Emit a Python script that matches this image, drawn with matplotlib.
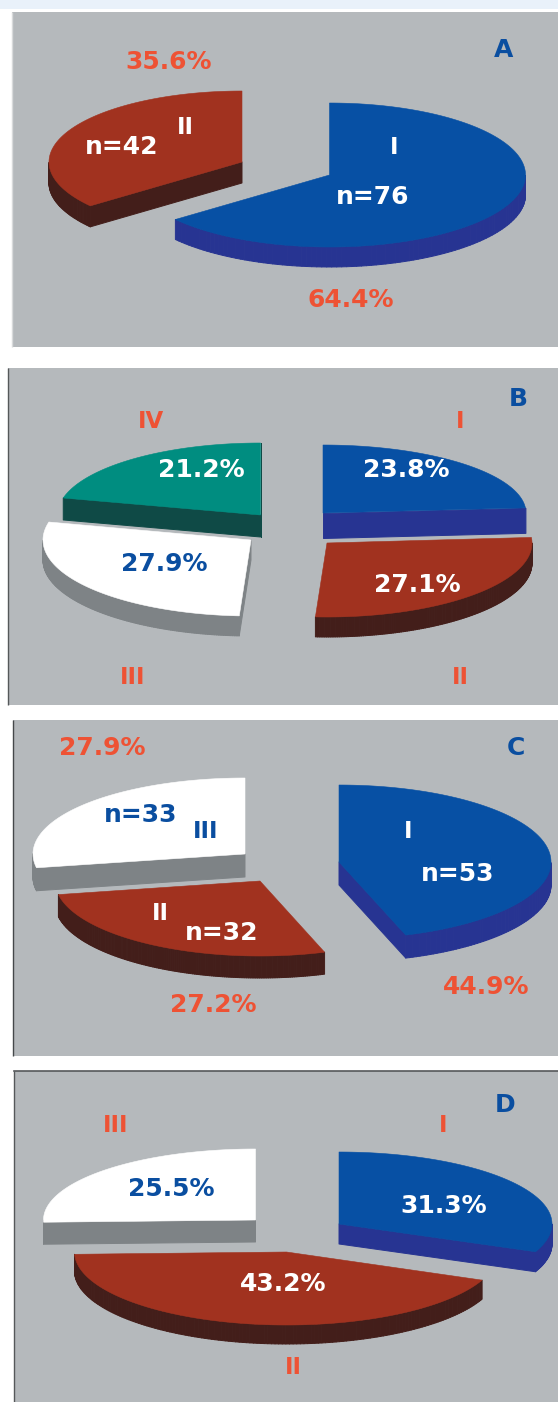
import numpy as np
import matplotlib
matplotlib.use("Agg")
import matplotlib.pyplot as plt
from matplotlib.patches import Polygon, Rectangle
from matplotlib.collections import PolyCollection

# ---- data: percentage of each slice, in clockwise order from 12 o'clock
categories_A = ["I", "II"]
values_A = [64.4, 35.6]
categories_B = ["I", "II", "III", "IV"]
values_B = [23.8, 27.1, 27.9, 21.2]
categories_C = ["I", "II", "III"]
values_C = [44.9, 27.2, 27.9]
categories_D = ["I", "II", "III"]
values_D = [31.3, 43.2, 25.5]

# ---- styles
BG = "#B5B9BC"
BLUE, BLUE_S = "#0750A4", "#273492"
RED, RED_S = "#A1321F", "#431E1A"
TEAL, TEAL_S = "#008D80", "#0F4A46"
WHITE, WHITE_S = "#FFFFFF", "#7E8386"
ORANGE = "#EE5234"
TXTBLUE = "#0A4EA0"
STYLE = {"I": (BLUE, BLUE_S), "II": (RED, RED_S), "III": (WHITE, WHITE_S), "IV": (TEAL, TEAL_S)}

# ---- layout (pixel space): category -> centre x, centre y, rx, ry, depth; dict order = paint order
layout_A = {"II": (242, 162, 193, 71, 21), "I": (329.5, 175, 196, 72, 20)}
layout_B = {"IV": (260.5, 515, 203, 72, 22), "I": (323, 513, 203, 68, 25),
            "III": (251, 540, 208, 76, 20), "II": (327, 543, 205, 74, 20)}
layout_C = {"III": (245, 854, 212, 76, 23), "II": (260, 881, 205, 75, 22), "I": (339, 862, 212, 77, 23)}
layout_D = {"III": (255.5, 1220, 212, 71, 22), "I": (339, 1224, 213, 72, 20), "II": (286.5, 1252, 212, 73, 19)}

panels = [(12, 12, 347), (8, 368, 705), (12.5, 720, 1056), (14, 1071, 1402)]

texts = [
    ("A", 503.5, 50, TXTBLUE), ("35.6%", 169, 62, ORANGE), ("II", 185, 127, "white"), ("n=42", 122, 147, "white"),
    ("I", 394, 147, "white"), ("n=76", 373, 197, "white"), ("64.4%", 350.5, 300, ORANGE),
    ("B", 518.5, 399, TXTBLUE), ("IV", 151, 422, ORANGE), ("I", 460.5, 422, ORANGE), ("21.2%", 201, 470, "white"),
    ("23.8%", 406, 470, "white"), ("27.9%", 164, 564, TXTBLUE), ("27.1%", 417.5, 585, "white"),
    ("III", 133, 677, ORANGE), ("II", 460.5, 677, ORANGE),
    ("27.9%", 102, 748, ORANGE), ("C", 516, 748, TXTBLUE), ("n=33", 140.5, 815, TXTBLUE), ("III", 206, 831, TXTBLUE),
    ("I", 408.5, 831, "white"), ("n=53", 458, 874, "white"), ("II", 160.5, 914, "white"), ("n=32", 222, 933, "white"),
    ("44.9%", 486, 987, ORANGE), ("27.2%", 213.5, 1005, ORANGE),
    ("D", 504.6, 1105, TXTBLUE), ("III", 115.7, 1126, ORANGE), ("I", 443.5, 1126, ORANGE), ("25.5%", 171, 1189, TXTBLUE),
    ("31.3%", 443.5, 1206, "white"), ("43.2%", 283.6, 1284, "white"), ("II", 293, 1367, ORANGE),
]


def slice_outline(cx, cy, rx, ry, a0, a1):
    """Outline of a flattened pie slice; angles in degrees clockwise from 12 o'clock."""
    t = np.radians(np.linspace(a0, a1, 160))
    x = cx + rx * np.sin(t)
    y = cy - ry * np.cos(t)
    return np.vstack([[cx, cy], np.column_stack([x, y]), [cx, cy]])


def draw_pie(ax, categories, values, layout):
    angles = np.cumsum([0.0] + list(values)) * 3.6
    spans = {c: (angles[i], angles[i + 1]) for i, c in enumerate(categories)}
    for z, (cat, (cx, cy, rx, ry, depth)) in enumerate(layout.items()):
        a0, a1 = spans[cat]
        top, side = STYLE[cat]
        pts = slice_outline(cx, cy, rx, ry, a0, a1)
        low = pts + [0, depth]
        # only the edges that face the viewer (running leftwards on screen) show a side wall
        quads = [[pts[i], pts[i + 1], low[i + 1], low[i]] for i in range(len(pts) - 1)
                 if pts[i + 1][0] < pts[i][0]]
        ax.add_collection(PolyCollection(quads, facecolors=side, edgecolors=side, linewidths=0.7,
                                         zorder=3 + z * 0.1))
        ax.add_patch(Polygon(pts, closed=True, facecolor=top, edgecolor=top, linewidth=0.4, zorder=3.05 + z * 0.1))


fig = plt.figure(figsize=(5.58, 14.02), dpi=100, facecolor="white")
ax = fig.add_axes([0, 0, 1, 1])
ax.set_xlim(0, 558)
ax.set_ylim(1402, 0)
ax.axis("off")

# pale strip along the top edge
ax.add_patch(Rectangle((0, 0), 558, 9, facecolor="#E9F1FA", edgecolor="none", zorder=0))

# panel backgrounds and their dark scan edges
for (x0, y0, y1), edge_col in zip(panels, ["#D8DADB", "#55585A", "#45484A", "#55585A"]):
    ax.add_patch(Rectangle((x0, y0), 558 - x0, y1 - y0, facecolor=BG, edgecolor="none", zorder=1))
    ax.plot([x0, x0], [y0, y1], color=edge_col, lw=1.0, zorder=2, solid_capstyle="butt")
ax.plot([14, 558], [1071, 1071], color="#55585A", lw=1.2, zorder=2)

draw_pie(ax, categories_A, values_A, layout_A)
draw_pie(ax, categories_B, values_B, layout_B)
draw_pie(ax, categories_C, values_C, layout_C)
draw_pie(ax, categories_D, values_D, layout_D)

for s, x, y, c in texts:
    size = 16.5 if set(s) <= set("IV") else 18
    ax.text(x, y, s, color=c, ha="center", va="center", family="DejaVu Sans",
            fontweight="bold", fontsize=size, zorder=6)

fig.savefig("out.png", dpi=100, facecolor="white")
